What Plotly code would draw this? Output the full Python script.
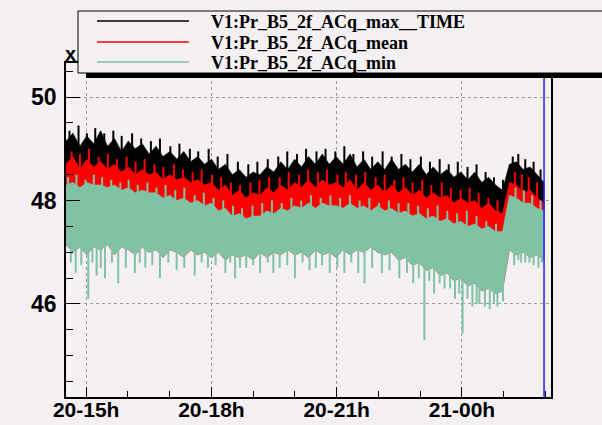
import plotly.graph_objects as go
import numpy as np
import pandas as pd

# ---------------- data ----------------
t_start = "2011-06-20 14:31"
t_end = "2011-06-21 01:58"

# solid envelopes of each series, evenly spaced from t_start to t_end
black_top = [49.15, 49.3, 49.05, 49.25, 49.1, 49.35, 49.05, 49.2, 48.95, 49.15,
             49.0, 49.1, 48.9, 49.05, 48.85, 48.95, 48.8, 48.95, 48.75, 48.85,
             48.7, 48.8, 48.6, 48.7, 48.5, 48.6, 48.45, 48.55, 48.5, 48.65,
             48.55, 48.75, 48.6, 48.8, 48.65, 48.85, 48.7, 48.9, 48.7, 48.85,
             48.7, 48.9, 48.65, 48.8, 48.6, 48.75, 48.6, 48.8, 48.6, 48.7,
             48.55, 48.7, 48.5, 48.65, 48.5, 48.6, 48.45, 48.55, 48.4, 48.55,
             48.35, 48.45, 48.3, 48.2, 48.7, 48.75, 48.6, 48.65, 48.5, 48.35]

red_top = [48.7, 48.85, 48.6, 48.8, 48.65, 48.75, 48.6, 48.7, 48.55, 48.65,
           48.5, 48.6, 48.5, 48.55, 48.4, 48.5, 48.4, 48.45, 48.35, 48.4,
           48.3, 48.35, 48.2, 48.3, 48.1, 48.2, 48.05, 48.15, 48.1, 48.25,
           48.15, 48.3, 48.2, 48.35, 48.25, 48.4, 48.25, 48.4, 48.3, 48.35,
           48.25, 48.4, 48.2, 48.35, 48.2, 48.3, 48.15, 48.3, 48.15, 48.25,
           48.1, 48.2, 48.05, 48.15, 48.05, 48.1, 47.95, 48.05, 47.95, 48.0,
           47.85, 47.95, 47.8, 47.75, 48.35, 48.3, 48.15, 48.2, 48.05, 47.95]

green_top = [48.3, 48.35, 48.25, 48.35, 48.3, 48.3, 48.25, 48.3, 48.2, 48.25,
             48.15, 48.2, 48.15, 48.15, 48.05, 48.1, 48.0, 48.05, 47.95, 48.0,
             47.9, 47.95, 47.8, 47.85, 47.7, 47.75, 47.65, 47.7, 47.7, 47.8,
             47.75, 47.85, 47.8, 47.9, 47.85, 47.95, 47.85, 47.95, 47.9, 47.9,
             47.85, 47.95, 47.85, 47.9, 47.8, 47.9, 47.8, 47.85, 47.75, 47.8,
             47.7, 47.75, 47.65, 47.7, 47.6, 47.65, 47.55, 47.6, 47.5, 47.55,
             47.45, 47.5, 47.4, 47.4, 48.1, 48.05, 47.95, 47.95, 47.85, 47.8]

green_bottom = [47.15, 47.0, 47.1, 46.95, 47.1, 47.05, 47.15, 46.95, 47.1, 47.05,
                46.95, 47.1, 47.0, 47.05, 46.9, 47.05, 47.0, 46.9, 47.05, 46.95,
                47.0, 46.9, 47.0, 46.85, 46.95, 46.9, 46.95, 46.85, 47.0, 46.9,
                47.0, 46.95, 47.05, 46.95, 47.0, 46.9, 47.05, 46.95, 47.0, 46.9,
                47.05, 46.95, 47.05, 47.0, 47.1, 47.0, 46.95, 47.0, 46.85, 46.9,
                46.75, 46.8, 46.65, 46.7, 46.55, 46.6, 46.45, 46.5, 46.35, 46.4,
                46.25, 46.3, 46.2, 46.25, 47.05, 46.95, 47.0, 46.9, 46.95, 46.85]

# individual spikes: minutes after t_start, and the extreme value reached
black_spike_min = [5, 18, 30, 42, 55, 68, 80, 95, 108, 122, 135, 150, 163, 178, 190, 205, 218,
                   232, 247, 262, 275, 290, 305, 318, 332, 345, 360, 373, 387, 400, 413, 427,
                   440, 455, 468, 482, 495, 510, 523, 537, 550, 563, 577, 590, 603, 615, 628,
                   642, 650, 660, 672, 682]
black_spike_val = [49.35, 49.45, 49.3, 49.4, 49.3, 49.35, 49.25, 49.3, 49.2, 49.15, 49.2, 49.05,
                   49.1, 49.0, 48.95, 49.0, 48.85, 48.9, 48.75, 48.7, 48.75, 48.8, 48.85, 48.95,
                   48.9, 49.0, 48.95, 49.0, 48.95, 49.05, 48.9, 48.95, 48.85, 48.95, 48.85, 48.9,
                   48.8, 48.85, 48.75, 48.8, 48.7, 48.75, 48.65, 48.7, 48.55, 48.45, 48.4,
                   48.85, 48.9, 48.8, 48.75, 48.6]

red_spike_min = [8, 20, 33, 47, 60, 73, 87, 100, 113, 127, 140, 155, 168, 182, 195, 210, 223,
                 237, 250, 265, 278, 292, 307, 320, 335, 348, 362, 375, 390, 402, 417, 430,
                 445, 458, 472, 485, 498, 512, 525, 540, 553, 567, 580, 593, 607, 620, 633,
                 645, 655, 665, 677]
red_spike_val = [48.95, 48.9, 49.0, 48.85, 48.9, 48.8, 48.85, 48.75, 48.8, 48.7, 48.65, 48.7,
                 48.6, 48.55, 48.6, 48.5, 48.45, 48.35, 48.3, 48.35, 48.4, 48.45, 48.45, 48.55,
                 48.5, 48.6, 48.55, 48.6, 48.5, 48.55, 48.5, 48.55, 48.45, 48.5, 48.4, 48.45,
                 48.35, 48.4, 48.3, 48.35, 48.25, 48.2, 48.25, 48.15, 48.05, 48.0, 47.95,
                 48.55, 48.5, 48.45, 48.35]

green_up_min = [3, 15, 28, 40, 52, 65, 78, 90, 103, 117, 130, 143, 157, 170, 185, 198, 212,
                226, 240, 253, 268, 282, 296, 310, 324, 338, 352, 366, 380, 394, 408, 422,
                436, 450, 464, 478, 492, 506, 520, 534, 548, 562, 576, 590, 604, 618, 632,
                646, 658, 670, 682]
green_up_val = [48.45, 48.5, 48.4, 48.5, 48.45, 48.4, 48.35, 48.4, 48.3, 48.35, 48.25, 48.3,
                48.2, 48.25, 48.1, 48.15, 48.05, 48.0, 47.9, 47.85, 47.9, 47.95, 48.0, 47.95,
                48.05, 48.0, 48.1, 48.05, 48.1, 48.05, 48.1, 48.0, 48.05, 47.95, 48.0, 47.95,
                47.95, 47.9, 47.85, 47.9, 47.8, 47.75, 47.8, 47.7, 47.6, 47.55, 47.55,
                48.25, 48.2, 48.1, 48.0]

green_down_min = [7, 14, 22, 32, 38, 44, 50, 56, 66, 75, 86, 99, 106, 114, 124, 135, 147, 159,
                  170, 185, 195, 204, 215, 229, 236, 243, 250, 259, 269, 279, 290, 298, 307,
                  318, 329, 340, 350, 359, 368, 379, 390, 400, 410, 420, 429, 440, 454, 465,
                  479, 490, 499, 507, 515, 522, 529, 537, 544, 552, 559, 565, 570, 577, 584,
                  590, 594, 602, 609, 615, 620, 628, 644, 650, 654, 660, 666, 672, 679, 684]
green_down_val = [46.8, 46.6, 46.75, 46.1, 46.8, 46.55, 46.7, 46.5, 46.8, 46.4, 46.7, 46.6,
                  46.8, 46.7, 46.75, 46.5, 46.8, 46.65, 46.7, 46.55, 46.8, 46.7, 46.75, 46.6,
                  46.8, 46.5, 46.7, 46.7, 46.75, 46.6, 46.8, 46.6, 46.7, 46.75, 46.5, 46.8,
                  46.65, 46.7, 46.75, 46.6, 46.7, 46.6, 46.8, 46.6, 46.4, 46.7, 46.6, 46.65,
                  46.5, 46.6, 46.4, 46.5, 45.3, 46.45, 46.2, 46.4, 46.3, 46.3, 46.1, 46.2,
                  45.43, 46.1, 45.95, 46.0, 46.0, 45.95, 45.9, 46.0, 45.95, 46.05,
                  46.75, 46.85, 46.8, 46.8, 46.8, 46.75, 46.7, 46.8]

series_names = ["V1:Pr_B5_2f_ACq_max__TIME", "V1:Pr_B5_2f_ACq_mean", "V1:Pr_B5_2f_ACq_min"]
series_colors = ["#000000", "#ff0000", "#80c2a4"]

x_tick_vals = ["2011-06-20 15:00", "2011-06-20 18:00", "2011-06-20 21:00", "2011-06-21 00:00"]
x_tick_text = ["20-15h", "20-18h", "20-21h", "21-00h"]
y_tick_vals = [46, 48, 50]
x_range = ["2011-06-20 14:31", "2011-06-21 02:08"]
y_range = [44.2, 50.66]
marker_time = "2011-06-21 01:58"

# ---------------- figure ----------------
BG = "#f4f0f4"
W, H = 602, 425
ML, MR, MT, MB = 66, 51, 63, 28

times = pd.date_range(t_start, t_end, periods=len(black_top))
tnum = times.asi8
t0 = pd.Timestamp(t_start)


def band(top, bottom, color, name):
    xs = list(times) + list(times[::-1])
    ys = list(top) + list(bottom[::-1])
    return go.Scatter(x=xs, y=ys, fill="toself", fillcolor=color, mode="lines",
                      line=dict(color=color, width=0.6), name=name,
                      showlegend=False, hoverinfo="skip")


def spikes(mins, ends, base_arr, offset, color, name, width=2):
    tt = t0 + pd.to_timedelta(mins, unit="min")
    base = np.interp(tt.asi8, tnum, base_arr) + offset
    xs, ys = [], []
    for t, b, e in zip(tt, base, ends):
        xs += [t, t, None]
        ys += [b, e, None]
    return go.Scatter(x=xs, y=ys, mode="lines", line=dict(color=color, width=width),
                      name=name, showlegend=False, hoverinfo="skip")


fig = go.Figure()
fig.add_trace(band(black_top, green_top, series_colors[0], series_names[0]))
fig.add_trace(spikes(black_spike_min, black_spike_val, black_top, -0.1, series_colors[0], series_names[0]))
fig.add_trace(band(red_top, green_bottom, series_colors[1], series_names[1]))
fig.add_trace(spikes(red_spike_min, red_spike_val, red_top, -0.1, series_colors[1], series_names[1]))
fig.add_trace(band(green_top, green_bottom, series_colors[2], series_names[2]))
fig.add_trace(spikes(green_up_min, green_up_val, green_top, -0.1, series_colors[2], series_names[2]))
fig.add_trace(spikes(green_down_min, green_down_val, green_bottom, 0.15, series_colors[2], series_names[2]))

fig.update_layout(
    width=W, height=H,
    margin=dict(l=ML, r=MR, t=MT, b=MB, pad=0, autoexpand=False),
    paper_bgcolor=BG, plot_bgcolor=BG,
    showlegend=False,
)

fig.update_xaxes(
    type="date", range=x_range, automargin=False,
    tickvals=x_tick_vals, ticktext=x_tick_text,
    tickfont=dict(family="Liberation Sans", size=21, color="black", weight="bold"),
    ticks="inside", ticklen=10, tickwidth=1, tickcolor="black",
    minor=dict(dtick=3600000, tick0="2011-06-20 15:00", ticks="inside", ticklen=6,
               tickcolor="black", showgrid=False),
    showline=True, linecolor="black", linewidth=1.5, mirror=True,
    showgrid=True, gridcolor="#9a9a9a", griddash="dot", gridwidth=1,
    zeroline=False, ticklabelstandoff=-7,
)
fig.update_yaxes(
    range=y_range, automargin=False,
    tickvals=y_tick_vals,
    tickfont=dict(family="Liberation Sans", size=23, color="black", weight="bold"),
    ticks="inside", ticklen=14, tickwidth=1, tickcolor="black",
    minor=dict(dtick=0.5, tick0=0, ticks="inside", ticklen=7, tickcolor="black", showgrid=False),
    showline=True, linecolor="black", linewidth=1.5, mirror=True,
    showgrid=True, gridcolor="#9a9a9a", griddash="dot", gridwidth=1,
    zeroline=False, ticklabelstandoff=3,
)

# marker line
fig.add_shape(type="line", xref="x", yref="paper", x0=marker_time, x1=marker_time,
              y0=0, y1=1, line=dict(color="#2020ff", width=1.5), layer="above")

# manual ROOT-style legend
pw, ph = W - ML - MR, H - MT - MB


def PX(px):
    return (px - ML) / pw


def PY(py):
    return (H - MB - py) / ph


fig.add_shape(type="rect", xref="paper", yref="paper", x0=PX(86), x1=PX(660), y0=PY(78), y1=PY(72),
              fillcolor="black", line=dict(width=0), layer="above")
fig.add_shape(type="rect", xref="paper", yref="paper", x0=PX(78), x1=PX(660), y0=PY(73), y1=PY(11),
              fillcolor=BG, line=dict(color="black", width=1), layer="above")
legend_rows = [21, 42, 62]
for name, col, ry in zip(series_names, series_colors, legend_rows):
    fig.add_shape(type="line", xref="paper", yref="paper", x0=PX(97), x1=PX(189), y0=PY(ry), y1=PY(ry),
                  line=dict(color=col, width=1.5), layer="above")
    fig.add_annotation(xref="paper", yref="paper", x=PX(209), y=PY(ry + 1), text=name,
                       showarrow=False, xanchor="left", yanchor="middle",
                       font=dict(family="Liberation Serif", size=18, color="black", weight="bold"))

fig.add_annotation(xref="paper", yref="paper", x=PX(70), y=PY(54), text="x", showarrow=False,
                   xanchor="center", yanchor="middle",
                   font=dict(family="Liberation Sans", size=20, color="black", weight="bold"))

fig.write_html("out.html")
